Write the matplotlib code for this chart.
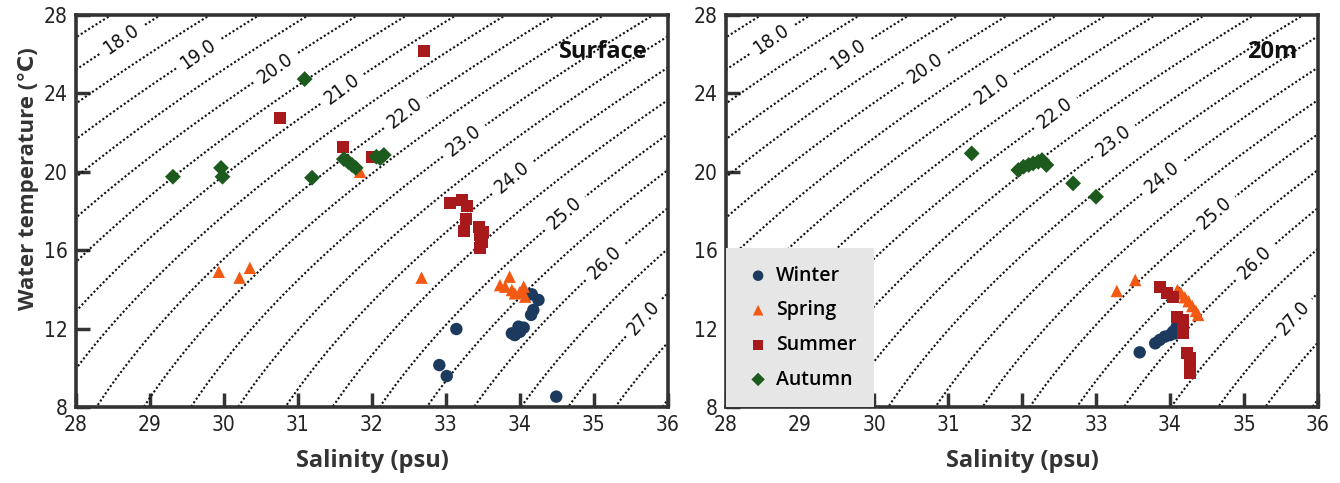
import numpy as np
import matplotlib
matplotlib.use("Agg")
import matplotlib.pyplot as plt
from matplotlib import font_manager
from matplotlib.font_manager import FontProperties

# ---------------- data (salinity psu, temperature degC) ----------------
# Surface
surf_winter_S = [33.14, 32.91, 33.01, 34.49, 34.16, 34.25, 34.18, 34.15, 33.98, 34.05, 33.89, 33.93, 34.00]
surf_winter_T = [11.98, 10.14, 9.58, 8.53, 13.75, 13.46, 12.95, 12.70, 12.10, 12.05, 11.76, 11.67, 11.84]
surf_spring_S = [29.93, 30.21, 30.35, 31.84, 32.67, 33.86, 33.73, 33.80, 33.89, 33.93, 34.05, 34.07, 34.00]
surf_spring_T = [14.90, 14.60, 15.10, 20.00, 14.60, 14.65, 14.22, 14.14, 13.97, 13.80, 14.14, 13.63, 13.88]
surf_summer_S = [30.76, 31.61, 32.00, 32.70, 33.05, 33.21, 33.28, 33.27, 33.25, 33.45, 33.46, 33.48, 33.46, 33.50]
surf_summer_T = [22.73, 21.28, 20.77, 26.16, 18.39, 18.56, 18.27, 17.58, 16.98, 17.20, 16.78, 16.43, 16.10, 16.95]
surf_autumn_S = [29.31, 29.96, 29.98, 31.09, 31.19, 31.62, 31.68, 31.73, 31.78, 32.06, 32.11, 32.16]
surf_autumn_T = [19.75, 20.20, 19.75, 24.73, 19.70, 20.65, 20.50, 20.35, 20.20, 20.77, 20.70, 20.86]

# 20 m
m20_winter_S = [33.59, 33.80, 33.86, 33.93, 34.00, 34.04, 34.09, 34.07]
m20_winter_T = [10.79, 11.25, 11.42, 11.59, 11.67, 11.84, 12.10, 11.76]
m20_spring_S = [33.28, 33.53, 34.10, 34.15, 34.20, 34.25, 34.30, 34.35, 34.38]
m20_spring_T = [13.92, 14.48, 13.97, 13.80, 13.60, 13.40, 13.15, 12.90, 12.70]
m20_summer_S = [33.86, 33.96, 34.04, 34.09, 34.18, 34.18, 34.18, 34.23, 34.27, 34.27, 34.27]
m20_summer_T = [14.14, 13.80, 13.63, 12.60, 12.44, 12.01, 11.76, 10.74, 10.48, 10.14, 9.72]
m20_autumn_S = [31.32, 31.95, 32.02, 32.09, 32.15, 32.22, 32.27, 32.33, 32.69, 33.00]
m20_autumn_T = [20.94, 20.09, 20.26, 20.35, 20.43, 20.51, 20.60, 20.35, 19.41, 18.73]

season_names = ["Winter", "Spring", "Summer", "Autumn"]
panel_titles = ["Surface", "20m"]
x_ticks = [28, 29, 30, 31, 32, 33, 34, 35, 36]
y_ticks = [8, 12, 16, 20, 24, 28]
sigma_label_levels = [18.0, 19.0, 20.0, 21.0, 22.0, 23.0, 24.0, 25.0, 26.0, 27.0]
sigma_other_levels = [16.5, 17.0, 17.5, 18.5, 19.5, 20.5, 21.5, 22.5, 23.5, 24.5,
                      25.5, 26.5, 27.5, 28.0, 28.5, 29.0]
label_pos_S = [28.64, 29.68, 30.73, 31.60, 32.42, 33.26, 33.90, 34.60, 35.15, 35.66]
label_pos_T = [26.6, 25.86, 25.1, 24.2, 23.15, 21.5, 19.7, 17.9, 15.35, 12.6]

colors = {"Winter": "#1b3a5e", "Spring": "#f25a14", "Summer": "#a8191b", "Autumn": "#1d5a1d"}
markers = {"Winter": "o", "Spring": "^", "Summer": "s", "Autumn": "D"}
msize = {"Winter": 80, "Spring": 80, "Summer": 75, "Autumn": 65}

# ---- pick a condensed font if one is installed ----
cond_file = None
cands = []
for f in font_manager.fontManager.ttflist:
    nm = f.name.lower()
    fn = f.fname.lower()
    is_cond = ("condensed" in nm or "narrow" in nm or "condensed" in fn or "narrow" in fn
               or str(f.stretch) in ("condensed", "semi-condensed", "extra-condensed"))
    if is_cond and ("italic" not in fn and "oblique" not in fn) and f.style == "normal":
        w = f.weight if isinstance(f.weight, int) else 400
        cands.append((abs(w - 400), fn, f.fname))
if cands:
    cands.sort()
    cond_file = cands[0][2]


def num_font(size):
    if cond_file:
        return FontProperties(fname=cond_file, size=size)
    return FontProperties(family="DejaVu Sans", size=size * 0.82)


label_font = ["Open Sans", "DejaVu Sans"]


def sigma_t(S, T):
    rho_w = (999.842594 + 6.793952e-2 * T - 9.095290e-3 * T**2 + 1.001685e-4 * T**3
             - 1.120083e-6 * T**4 + 6.536332e-9 * T**5)
    A = 8.24493e-1 - 4.0899e-3 * T + 7.6438e-5 * T**2 - 8.2467e-7 * T**3 + 5.3875e-9 * T**4
    B = -5.72466e-3 + 1.0227e-4 * T - 1.6546e-6 * T**2
    C = 4.8314e-4
    return rho_w + A * S + B * S**1.5 + C * S**2 - 1000.0


fig = plt.figure(figsize=(13.4, 4.83), dpi=100)
ax1 = fig.add_axes([0.0567, 0.1573, 0.4418, 0.8116])
ax2 = fig.add_axes([0.5418, 0.1573, 0.4418, 0.8116])

Sg = np.linspace(27.5, 36.5, 300)
Tg = np.linspace(7.5, 28.5, 300)
SS, TT = np.meshgrid(Sg, Tg)
ZZ = sigma_t(SS, TT)

panels = [
    (ax1, [(surf_winter_S, surf_winter_T), (surf_spring_S, surf_spring_T),
           (surf_summer_S, surf_summer_T), (surf_autumn_S, surf_autumn_T)]),
    (ax2, [(m20_winter_S, m20_winter_T), (m20_spring_S, m20_spring_T),
           (m20_summer_S, m20_summer_T), (m20_autumn_S, m20_autumn_T)]),
]

line_kw = dict(colors="#111111", linewidths=1.5, linestyles=[(0, (1, 1.1))])

for i, (ax, series) in enumerate(panels):
    ax.contour(SS, TT, ZZ, levels=sigma_other_levels, **line_kw)
    cs = ax.contour(SS, TT, ZZ, levels=sigma_label_levels, **line_kw)
    lbls = ax.clabel(cs, fmt="%.1f", fontsize=13, inline=True, inline_spacing=4,
                     manual=list(zip(label_pos_S, label_pos_T)))
    for t in lbls:
        t.set_fontproperties(num_font(14))
        t.set_color("#111111")
    for name, (s, t) in zip(season_names, series):
        ax.scatter(s, t, s=msize[name], marker=markers[name], color=colors[name],
                   edgecolors="none", zorder=5, label=name)
    ax.set_xlim(28, 36)
    ax.set_ylim(8, 28)
    ax.set_xticks(x_ticks)
    ax.set_yticks(y_ticks)
    ax.set_xticklabels([str(v) for v in x_ticks], fontproperties=num_font(15), color="#222222")
    ax.set_yticklabels([str(v) for v in y_ticks], fontproperties=num_font(15), color="#222222")
    ax.tick_params(direction="in", length=10, width=2.5, color="#333333", pad=6)
    for sp in ax.spines.values():
        sp.set_linewidth(2.6)
        sp.set_color("#333333")
    ax.set_xlabel("Salinity (psu)", fontsize=17, fontweight="bold",
                  fontfamily=label_font, color="#333333", labelpad=10)
    ax.text(0.965, 0.905, panel_titles[i], transform=ax.transAxes, ha="right", va="center",
            fontsize=17, fontweight="bold", fontfamily=label_font, color="#111111", zorder=6)

ax1.set_ylabel("Water temperature (\u2103)", fontsize=16, fontweight="bold",
               fontfamily=label_font, color="#333333")
ax1.yaxis.set_label_coords(-0.062, 0.582)

leg = ax2.legend(loc="lower left", bbox_to_anchor=(0.0, 0.0), borderaxespad=0.0,
                 frameon=True, fancybox=False, framealpha=1.0, facecolor="#e6e6e6",
                 edgecolor="none", handletextpad=0.15, labelspacing=0.75,
                 borderpad=0.9, handlelength=1.5, markerscale=0.85,
                 prop={"family": label_font, "weight": "semibold", "size": 14})
leg.set_zorder(10)

fig.savefig("out.png", dpi=100)
